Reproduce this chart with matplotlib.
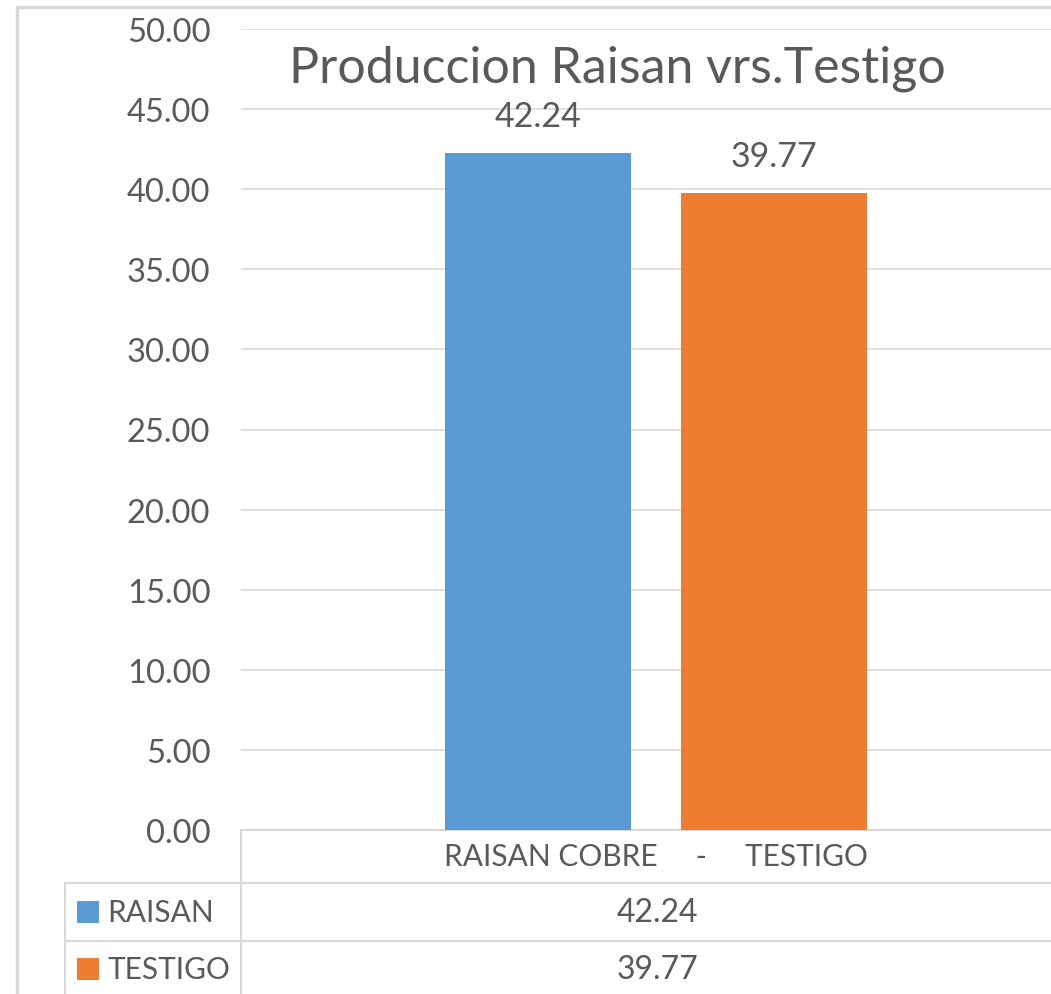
import matplotlib
matplotlib.use("Agg")
import matplotlib.pyplot as plt
from matplotlib.lines import Line2D
from matplotlib.patches import Rectangle

# datos del grafico
series = ["RAISAN", "TESTIGO"]
values = [42.24, 39.77]
colors = ["#5B9BD5", "#ED7D31"]
category = "RAISAN COBRE     -     TESTIGO"
title = "Produccion Raisan vrs.Testigo"
y_ticks = [0, 5, 10, 15, 20, 25, 30, 35, 40, 45, 50]

W, H = 1051, 995
TXT = "#595959"
GRID = "#D9D9D9"

plt.rcParams["font.family"] = ["Lato", "DejaVu Sans"]


def fx(x):
    return x / W


def fy(y):
    return 1 - y / H


fig = plt.figure(figsize=(W / 100, H / 100), dpi=100)

# borde del area del grafico (recortado a la derecha y abajo)
fig.add_artist(Rectangle((fx(17), fy(1100)), fx(1100), fy(8) - fy(1100),
                         transform=fig.transFigure, fill=False,
                         edgecolor=GRID, linewidth=2.5))

ax = fig.add_axes([fx(241), fy(831), fx(1071) - fx(241), fy(30) - fy(831)])
x = list(range(len(values)))
bars = ax.bar(x, values, width=0.79, color=colors, zorder=3)
ax.bar_label(bars, labels=[f"{v:.2f}" for v in values], padding=15,
             fontsize=24.5, color=TXT)

ax.set_xlim(-1.264, 2.264)
ax.set_ylim(0, 50)
ax.set_yticks(y_ticks)
ax.set_yticklabels([f"{t:.2f}" for t in y_ticks], fontsize=23.5, color=TXT)
ax.set_xticks([0.5])
ax.set_xticklabels([category], fontsize=21.5, color=TXT)
ax.tick_params(axis="y", length=0, pad=22)
ax.tick_params(axis="x", length=0, pad=9)
ax.grid(axis="y", color=GRID, linewidth=1.2, zorder=0)
for side in ["top", "right", "left"]:
    ax.spines[side].set_visible(False)
ax.spines["bottom"].set_color(GRID)
ax.spines["bottom"].set_linewidth(1.5)

fig.text(fx(617), fy(82), title, fontsize=36, color=TXT, ha="center", va="baseline")

# tabla de datos
def hline(y, x0, x1=1100):
    fig.add_artist(Line2D([fx(x0), fx(x1)], [fy(y), fy(y)], transform=fig.transFigure,
                          color=GRID, linewidth=1.5))


def vline(x, y0, y1=1100):
    fig.add_artist(Line2D([fx(x), fx(x)], [fy(y0), fy(y1)], transform=fig.transFigure,
                          color=GRID, linewidth=1.5))


vline(241, 831)
vline(65, 884)
hline(884, 65)
hline(942, 65)

row_y = [913, 970]
for name, val, col, yy in zip(series, values, colors, row_y):
    fig.add_artist(Rectangle((fx(77), fy(yy + 11)), fx(22), fy(yy - 11) - fy(yy + 11),
                             transform=fig.transFigure, facecolor=col, edgecolor="none"))
    fig.text(fx(107), fy(yy), name, fontsize=21.5, color=TXT, ha="left", va="center")
    fig.text(fx(657), fy(yy), f"{val:.2f}", fontsize=23, color=TXT, ha="center", va="center")

fig.savefig("out.png", dpi=100)
